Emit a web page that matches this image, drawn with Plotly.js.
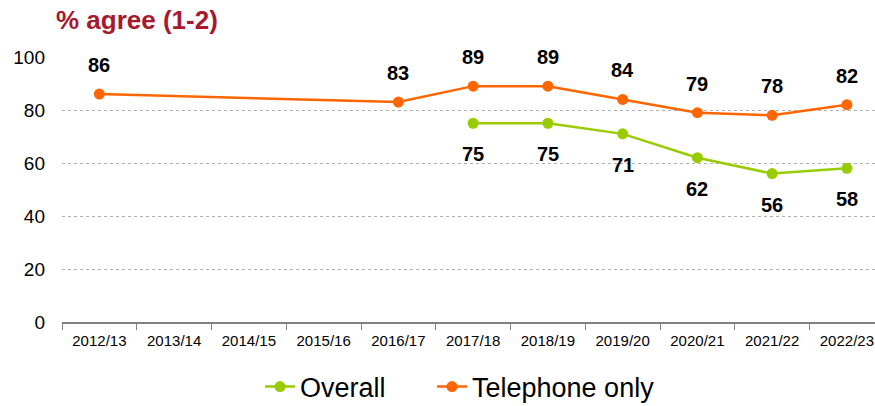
<!DOCTYPE html>
<html><head><meta charset="utf-8">
<script src="https://cdn.plot.ly/plotly-3.0.1.min.js"></script>
<style>html,body{margin:0;padding:0;background:#fff}#chart{width:875px;height:406px}</style>
</head><body><div id="chart"></div>
<script>
const categories = ["2012/13","2013/14","2014/15","2015/16","2016/17","2017/18","2018/19","2019/20","2020/21","2021/22","2022/23"];
const overall = [null,null,null,null,null,75,75,71,62,56,58];
const telephone = [86,null,null,null,83,89,89,84,79,78,82];
const yTicks = [0,20,40,60,80,100];

const font = "Liberation Sans, Arial, sans-serif";
const green = "#99CC00", orange = "#FF6600";

const traces = [
  {x: categories, y: overall, name: "Overall", type: "scatter", mode: "lines+markers", connectgaps: true, legend: "legend",
   line: {color: green, width: 2.5}, marker: {color: green, size: 11}},
  {x: categories, y: telephone, name: "Telephone only", type: "scatter", mode: "lines+markers", connectgaps: true, legend: "legend2",
   line: {color: orange, width: 2.5}, marker: {color: orange, size: 11}}
];

const annotations = [];
categories.forEach((c, i) => {
  if (telephone[i] != null) annotations.push({x: c, y: telephone[i], text: String(telephone[i]), showarrow: false, yshift: 29,
    font: {family: font, size: 20, color: "#000", weight: "bold"}});
  if (overall[i] != null) annotations.push({x: c, y: overall[i], text: String(overall[i]), showarrow: false, yshift: -31,
    font: {family: font, size: 20, color: "#000", weight: "bold"}});
});

const legendBase = {orientation: "h", xanchor: "left", yref: "container", y: 1 - 387/406, yanchor: "middle",
  font: {family: font, size: 27, color: "#000"}, itemwidth: 30, bgcolor: "rgba(0,0,0,0)"};

const layout = {
  width: 875, height: 406,
  margin: {l: 62, r: 0, t: 57, b: 84, autoexpand: false},
  paper_bgcolor: "#fff", plot_bgcolor: "#fff",
  font: {family: font, color: "#000"},
  title: {text: "<b>% agree (1-2)</b>", font: {family: font, size: 26, color: "#A6192E"},
          xref: "container", yref: "container", x: 56/875, xanchor: "left", y: 1 - 20/406, yanchor: "middle"},
  xaxis: {type: "category", range: [-0.5, 10.376], tickson: "boundaries", ticks: "outside", ticklen: 6,
          tickcolor: "#808080", showline: true, linecolor: "#808080", linewidth: 1.5, showgrid: false, automargin: false,
          tickfont: {family: font, size: 15, color: "#000"}, ticklabelstandoff: 4, fixedrange: true},
  yaxis: {range: [0, 100], tickvals: yTicks, ticktext: yTicks.map(String), showgrid: true, gridcolor: "#b0b0b0",
          griddash: "dot", gridwidth: 1, zeroline: false, showline: false, ticks: "", automargin: false,
          tickfont: {family: font, size: 19, color: "#000"}, ticklabelstandoff: 16},
  showlegend: true,
  legend: Object.assign({}, legendBase, {x: (260-62)/813}),
  legend2: Object.assign({}, legendBase, {x: (432-62)/813}),
  annotations: annotations
};
Plotly.newPlot("chart", traces, layout, {displayModeBar: false, staticPlot: true});
</script></body></html>
